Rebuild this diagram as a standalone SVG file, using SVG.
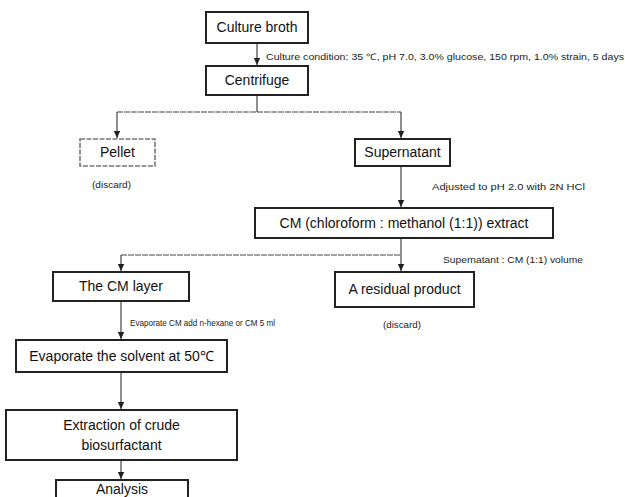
<svg xmlns="http://www.w3.org/2000/svg" width="625" height="497" viewBox="0 0 625 497">
<style>
.box{fill:#fff;stroke:#222;stroke-width:2}
.boxl{fill:#fff;stroke:#777;stroke-width:1.6;stroke-dasharray:5 1.5}
.t{font-family:"Liberation Sans",Arial,sans-serif;font-size:14px;fill:#111;text-anchor:middle}
.s{font-family:"Liberation Sans",Arial,sans-serif;font-size:9px;fill:#222}
.c{fill:none;stroke:#333;stroke-width:1.1}
.h{fill:none;stroke:#444;stroke-width:1.1;stroke-dasharray:6 1}
</style>
<defs>
<marker id="ah" markerWidth="8" markerHeight="8" refX="7" refY="4" orient="auto" markerUnits="userSpaceOnUse">
<path d="M0,0.8 L7,4 L0,7.2 Z" fill="#222"/>
</marker>
</defs>
<rect width="625" height="497" fill="#fff"/>
<g id="connectors">
<path class="c" d="M257,43 V65" marker-end="url(#ah)"/>
<path class="c" d="M257,95 V112"/>
<path class="h" d="M117,112 H401"/>
<path class="c" d="M117,112 V138" marker-end="url(#ah)"/>
<path class="c" d="M401,112 V138" marker-end="url(#ah)"/>
<path class="c" d="M401,166 V207" marker-end="url(#ah)"/>
<path class="c" d="M401,238 V271" marker-end="url(#ah)"/>
<path class="h" d="M121,255 H401"/>
<path class="c" d="M121,255 V271" marker-end="url(#ah)"/>
<path class="c" d="M121,301 V339" marker-end="url(#ah)"/>
<path class="c" d="M121,372 V409" marker-end="url(#ah)"/>
<path class="c" d="M121,460 V479" marker-end="url(#ah)"/>
</g>
<g id="culture-broth"><rect class="box" x="206" y="12" width="102" height="31"/><text class="t" x="257" y="32">Culture broth</text></g>
<text class="s" x="266" y="60" textLength="358" lengthAdjust="spacingAndGlyphs">Culture condition: 35 ℃, pH 7.0, 3.0% glucose, 150 rpm, 1.0% strain, 5 days</text>
<g id="centrifuge"><rect class="box" x="206" y="66" width="102" height="29"/><text class="t" x="257" y="85">Centrifuge</text></g>
<g id="pellet"><rect class="boxl" x="80" y="139" width="75" height="27"/><text class="t" x="117.5" y="157">Pellet</text></g>
<text class="s" x="92" y="188" textLength="39" lengthAdjust="spacingAndGlyphs">(discard)</text>
<g id="supernatant"><rect class="box" x="355" y="139" width="95" height="27"/><text class="t" x="402.5" y="157">Supernatant</text></g>
<text class="s" x="432" y="190" textLength="153" lengthAdjust="spacingAndGlyphs">Adjusted to pH 2.0 with 2N HCl</text>
<g id="cm-extract"><rect class="box" x="255" y="208" width="298" height="30"/><text class="t" x="404" y="228">CM (chloroform : methanol (1:1)) extract</text></g>
<text class="s" x="443" y="263" textLength="140" lengthAdjust="spacingAndGlyphs">Supernatant : CM (1:1) volume</text>
<g id="cm-layer"><rect class="box" x="53" y="272" width="136" height="29"/><text class="t" x="121" y="291">The CM layer</text></g>
<g id="residual"><rect class="box" x="335" y="272" width="139" height="35"/><text class="t" x="404.5" y="294">A residual product</text></g>
<text class="s" x="383" y="328" textLength="38" lengthAdjust="spacingAndGlyphs">(discard)</text>
<text class="s" x="130" y="326" textLength="145" lengthAdjust="spacingAndGlyphs">Evaporate CM add n-hexane or CM 5 ml</text>
<g id="evaporate"><rect class="box" x="16" y="340" width="211" height="32"/><text class="t" x="121.5" y="361">Evaporate the solvent at 50℃</text></g>
<g id="extraction"><rect class="box" x="6" y="410" width="231" height="50"/><text class="t" x="121.5" y="430">Extraction of crude</text><text class="t" x="121.5" y="450">biosurfactant</text></g>
<g id="analysis"><rect class="box" x="56" y="480" width="132" height="25"/><text class="t" x="122" y="494">Analysis</text></g>
</svg>
